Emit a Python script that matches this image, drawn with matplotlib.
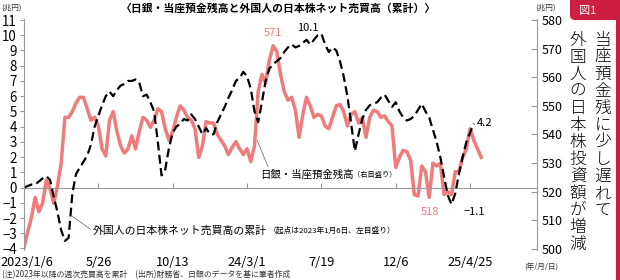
import numpy as np
import pandas as pd
import matplotlib
matplotlib.use('Agg')
import matplotlib.pyplot as plt
from matplotlib import font_manager
from matplotlib.patches import FancyBboxPatch, Rectangle
from matplotlib.transforms import IdentityTransform, ScaledTranslation

plt.rcParams['font.family'] = ['Noto Sans CJK JP', 'DejaVu Sans']

names = {f.name for f in font_manager.fontManager.ttflist}
num_font = 'Liberation Sans Narrow' if 'Liberation Sans Narrow' in names else 'Noto Sans CJK JP'

# weekly data from 2023/1/6
# 日銀・当座預金残高 (兆円, right axis)
cash = [500.5, 506, 511, 518, 513, 516, 524, 521, 516, 522,
        530, 546, 546, 548, 551, 553, 553, 549, 545, 546,
        543, 535, 532.5, 545, 548, 541, 536, 533.5, 535, 539.5,
        535, 541, 546, 545, 542.5, 545, 549, 548, 542, 538,
        541, 546, 550, 548.5, 546, 545, 542, 532, 536, 544.5,
        544, 544, 540, 538, 536, 533, 535.5, 537.5, 535, 533,
        535, 530.5, 536, 555, 561, 558, 566, 571, 569, 561,
        555, 552, 553, 548.5, 539, 547, 553, 550, 546, 547,
        546.5, 543, 542, 546, 550, 550.5, 548, 543, 547, 548,
        544, 546, 539, 546, 548.5, 548, 546, 546.5, 544.5, 543,
        528.5, 532, 534.5, 534, 531, 519, 518.5, 529, 527, 518,
        530, 529, 530, 519, 520, 519, 527, 527, 532, 535,
        542, 538, 535, 532]

# 外国人の日本株ネット売買高の累計 (兆円, left axis)
foreign = [0, 0.1, 0.2, 0.2, 0.4, 0.6, 0.75, 0.5, -0.6, -1.6,
           -2.8, -3.5, -3.3, -0.4, 0.9, 1.3, 1.7, 2.1, 2.8, 4.0,
           4.7, 5.4, 6.0, 6.3, 6.0, 6.4, 6.7, 6.8, 7.0, 7.0,
           7.1, 6.9, 6.0, 6.1, 5.6, 5.0, 3.0, 0.8, 1.2, 2.6,
           3.6, 4.0, 4.2, 4.5, 4.4, 4.8, 4.5, 4.0, 3.5, 3.9,
           3.5, 3.5, 4.3, 4.8, 5.3, 5.9, 6.4, 7.0, 7.2, 7.6,
           7.3, 6.5, 5.0, 4.3, 5.6, 7.0, 7.8, 8.1, 8.3, 8.5,
           8.9, 9.2, 9.4, 9.2, 9.3, 9.5, 9.7, 9.4, 9.7, 10.0,
           10.1, 9.4, 8.9, 9.2, 9.0, 8.3, 7.3, 6.0, 4.2, 2.4,
           3.5, 4.5, 5.1, 5.4, 5.5, 5.6, 5.9, 6.1, 5.7, 5.3,
           5.6, 5.0, 4.6, 4.4, 4.5, 4.7, 5.1, 5.5, 5.0, 4.6,
           3.8, 3.0, 2.0, 0.7, -0.5, -1.1, -0.4, 0.9, 2.0, 3.0,
           3.6, 4.2]

tick_dates = pd.to_datetime(['2023-01-06', '2023-05-26', '2023-10-13', '2024-03-01',
                             '2024-07-19', '2024-12-06', '2025-04-25'])
tick_labels = ['2023/1/6', '5/26', '10/13', '24/3/1', '7/19', '12/6', '25/4/25']
left_ticks = list(range(-4, 12))
right_ticks = list(range(500, 581, 10))

start = pd.Timestamp('2023-01-06')
d_cash = pd.date_range(start, periods=len(cash), freq='7D')
d_for = pd.date_range(start, periods=len(foreign), freq='7D')

def wk(n):
    return start + pd.Timedelta(weeks=n)

red = '#ef7b7b'
grey = '#999999'

fig = plt.figure(figsize=(6.2, 2.8), dpi=100)
ax = fig.add_axes([24 / 620, 1 - 250 / 280, 513 / 620, 231.5 / 280])
ax2 = ax.twinx()
ax.set_zorder(2)
ax2.set_zorder(1)
ax.patch.set_visible(False)
ax2.set_facecolor('#ededed')

ax2.plot(d_cash, cash, color=red, lw=2.5, solid_joinstyle='round')
ax.plot(d_for, foreign, color='black', lw=1.6, dashes=(4, 2))

ax.set_xlim(start, wk(138))
ax.set_ylim(-4.1, 11.1)
ax2.set_ylim(499.65, 580.52)

ax.axhline(0, color=grey, lw=0.8, zorder=0)
ax.vlines(tick_dates, 0, 0.28, color=grey, lw=0.8)

for a in (ax, ax2):
    for s in a.spines.values():
        s.set_visible(False)
ax.spines['left'].set_visible(True)
ax.spines['left'].set_color(grey)
ax.spines['left'].set_linewidth(0.8)
ax2.spines['right'].set_visible(True)
ax2.spines['right'].set_color(grey)
ax2.spines['right'].set_linewidth(0.8)

ax.set_yticks(left_ticks)
ax.set_yticklabels([str(v).replace('-', '\u2212') for v in left_ticks], fontfamily=num_font)
ax.tick_params(axis='y', direction='out', length=3, color=grey, width=0.8, pad=2, labelsize=9.6)
ax2.set_yticks(right_ticks)
ax2.set_yticklabels([str(v) for v in right_ticks], fontfamily=num_font)
ax2.tick_params(axis='y', direction='in', length=4, color=grey, width=0.8, pad=3, labelsize=9)

ax.set_xticks(tick_dates)
ax.set_xticklabels(tick_labels, fontfamily=num_font)
ax.tick_params(axis='x', length=0, pad=4, labelsize=9.2)
first = ax.get_xticklabels()[0]
first.set_transform(first.get_transform() + ScaledTranslation(3 / 100, 0, fig.dpi_scale_trans))

# annotations
ax2.text(wk(67), 575.5, '571', color=red, fontsize=8, ha='center', va='center', fontfamily=num_font)
ax.text(wk(76.4), 10.5, '10.1', color='black', fontsize=8, ha='center', va='center', fontfamily=num_font)
ax2.text(wk(109.2), 512.9, '518', color=red, fontsize=8, ha='center', va='center', fontfamily=num_font)
ax.text(wk(121.2), -1.6, '\u22121.1', color='black', fontsize=8, ha='center', va='center', fontfamily=num_font)
ax.text(wk(123.9), 4.25, '4.2', color='black', fontsize=8, ha='center', va='center', fontfamily=num_font)

ax.text(wk(63.5), 0.85, '日銀・当座預金残高', fontsize=7.5, ha='left', va='center')
ax.text(wk(88.5), 0.85, '（右目盛り）', fontsize=5.2, ha='left', va='center')
ax.plot([wk(62.7), wk(65.6)], [3.1, 1.4], color='#777777', lw=0.6)

ax.text(wk(18.6), -2.8, '外国人の日本株ネット売買高の累計', fontsize=7.8, ha='left', va='center')
ax.text(wk(65.9), -2.8, '（起点は2023年1月6日、左目盛り）', fontsize=5.6, ha='left', va='center')
ax.plot([wk(12.9), wk(17.8)], [-1.87, -2.72], color='#777777', lw=0.6)

# header texts
fig.text(279 / 620, 1 - 9 / 280, '〈日銀・当座預金残高と外国人の日本株ネット売買高（累計）〉',
         fontsize=7.8, fontweight='bold', ha='center', va='center')
fig.text(1 / 620, 1 - 8 / 280, '(兆円)', fontsize=5.5, ha='left', va='center', color='#333333')
fig.text(535 / 620, 1 - 8 / 280, '(兆円)', fontsize=5.5, ha='left', va='center', color='#333333')
fig.text(2 / 620, 1 - 274.5 / 280, '(注)2023年以降の週次売買高を累計　(出所)財務省、日銀のデータを基に筆者作成',
         fontsize=5.7, ha='left', va='center', color='#333333')
fig.text(541 / 620, 1 - 268 / 280, '(年/月/日)', fontsize=5.5, ha='center', va='center', color='#333333')

# side panel
crimson = '#cc1e40'
tab = FancyBboxPatch((570, 260), 60, 24, boxstyle='round,pad=0,rounding_size=5',
                     transform=IdentityTransform(), facecolor=crimson, edgecolor='none')
fig.add_artist(tab)
fig.add_artist(Rectangle((616, 0), 4, 262, transform=IdentityTransform(),
                         facecolor=crimson, edgecolor='none'))
fig.text(588 / 620, 1 - 11 / 280, '図1', color='white', fontsize=8, ha='center', va='center')

col_right = '当座預金残に少し遅れて'
col_left = '外国人の日本株投資額が増減'
for i, ch in enumerate(col_right):
    fig.text(603 / 620, 1 - (32 + 17 * i + 8.5) / 280, ch, fontsize=12, fontweight='light',
             ha='center', va='center')
for i, ch in enumerate(col_left):
    fig.text(578 / 620, 1 - (32 + 17 * i + 8.5) / 280, ch, fontsize=12, fontweight='light',
             ha='center', va='center')

fig.savefig('out.png', dpi=100)
